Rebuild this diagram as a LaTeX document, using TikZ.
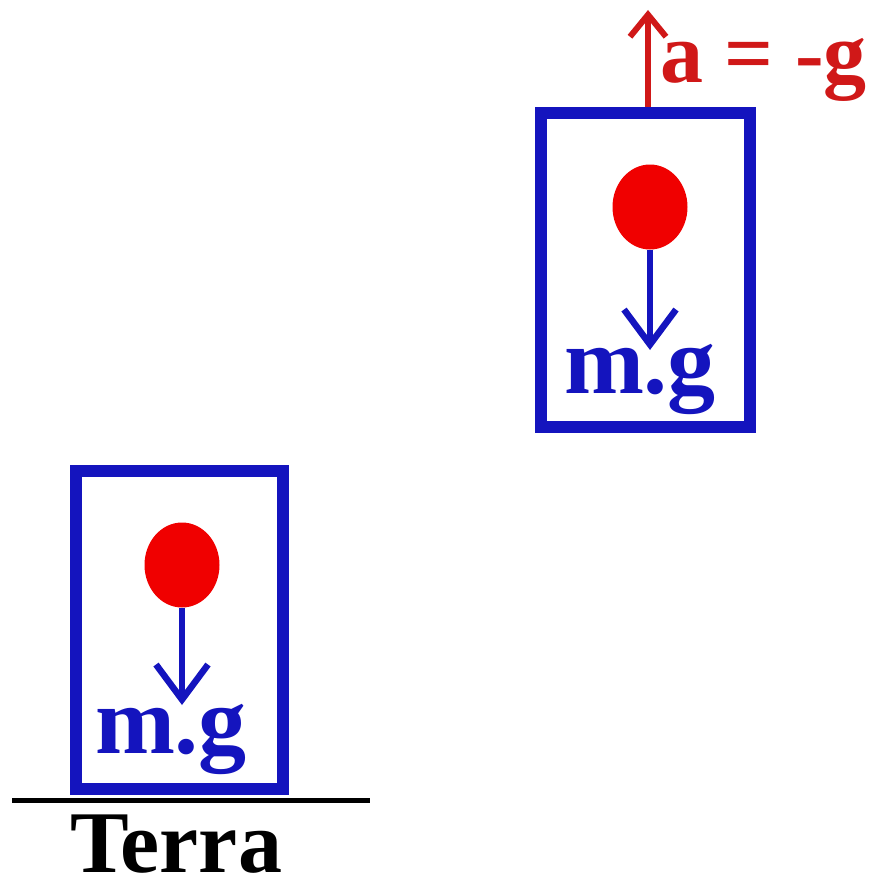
\documentclass[tikz,border=0pt]{standalone}
\usepackage{fontspec}
\setmainfont{Liberation Serif}
\usetikzlibrary{arrows.meta,positioning,shapes.geometric}
\definecolor{Blue}{HTML}{1414BE}
\definecolor{Red}{HTML}{F00000}
\definecolor{DarkRed}{HTML}{D01818}

\begin{document}
\begin{tikzpicture}[
  x=1pt,y=-1pt,
  box/.style={draw=Blue,line width=12pt,minimum width=207pt,minimum height=314pt,inner sep=0pt},
  ball/.style={ellipse,fill=Red,minimum width=75pt,minimum height=85pt,inner sep=0pt},
  weight/.style={Blue,line width=6.5pt,-{Straight Barb[length=35pt,width=52pt]}},
  lbl/.style={anchor=base,inner sep=0pt,font=\fontsize{96}{100}\selectfont\bfseries}
]
  \useasboundingbox (0,0) rectangle (895,891);
  % body at rest on the ground
  \node[box,minimum height=318pt] (boxA) at (179,630) {};
  \node[ball] (ballA) at (182,565) {};
  \coordinate (tipA) at (182,705);
  \draw[weight] (ballA.south) -- (tipA);
  \node[lbl,text=Blue] (mgA) at (171,753) {m.g};
  \coordinate (groundL) at (12,800);
  \coordinate (groundR) at (370,800);
  \draw[line width=5pt] (groundL) -- (groundR);
  \node[lbl,font=\fontsize{88}{92}\selectfont\bfseries] (terra) at (176,872) {Terra};
  % body in free fall
  \node[box,minimum width=209pt] (boxB) at (645.5,270) {};
  \node[ball] (ballB) at (650,207) {};
  \coordinate (tipB) at (650,350);
  \draw[weight] (ballB.south) -- (tipB);
  \node[lbl,text=Blue] (mgB) at (640,393) {m.g};
  \coordinate (accTop) at (648,10);
  \draw[DarkRed,line width=6pt,-{Straight Barb[length=22pt,width=36pt]}] (648,107) -- (accTop);
  \node[lbl,anchor=base west,text=DarkRed,font=\fontsize{86}{90}\selectfont\bfseries] (acc) at (660,82) {a = -g};
\end{tikzpicture}
\end{document}
